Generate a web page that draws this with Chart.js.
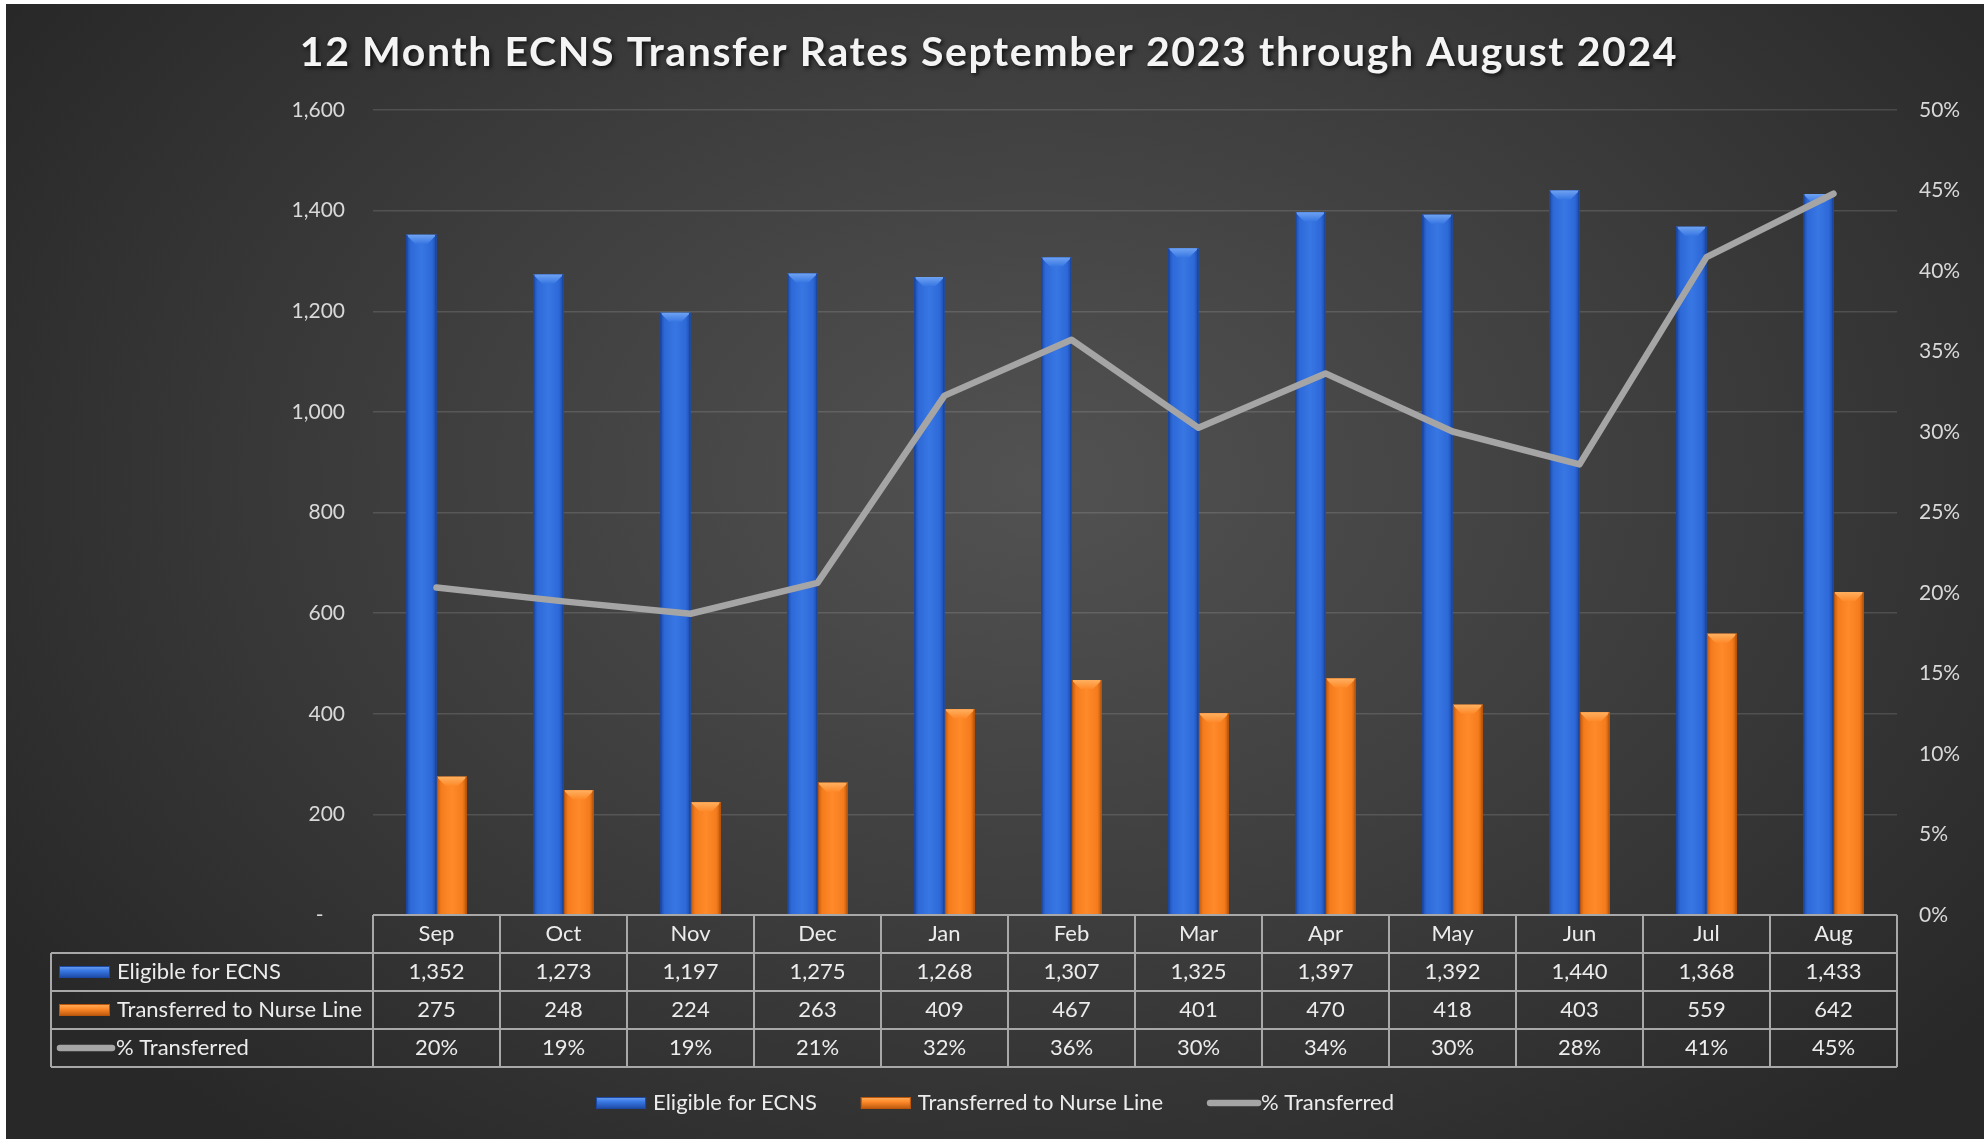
<!DOCTYPE html>
<html>
<head>
<meta charset="utf-8">
<script src="https://cdn.jsdelivr.net/npm/chart.js@4.4.1/dist/chart.umd.min.js"></script>
<style>
  body { margin: 0; background: #fff; }
  #wrap {
    position: absolute; left: 6px; top: 4px; width: 1978px; height: 1135px;
    background: radial-gradient(ellipse 62% 75% at 52% 42%, #525252 0%, #3e3e3e 50%, #282828 100%);
  }
</style>
</head>
<body>
<div id="wrap"><canvas id="chart" width="1978" height="1135"></canvas></div>
<script>
var chartTitle = '12 Month ECNS Transfer Rates September 2023 through August 2024';
var months = ['Sep', 'Oct', 'Nov', 'Dec', 'Jan', 'Feb', 'Mar', 'Apr', 'May', 'Jun', 'Jul', 'Aug'];
var eligible = [1352, 1273, 1197, 1275, 1268, 1307, 1325, 1397, 1392, 1440, 1368, 1433];
var transferred = [275, 248, 224, 263, 409, 467, 401, 470, 418, 403, 559, 642];
// % transferred, as drawn by the line (table shows them rounded)
var pctTransferred = [20.34, 19.48, 18.71, 20.63, 32.26, 35.73, 30.26, 33.64, 30.03, 27.99, 40.86, 44.80];

var FONT = 'Lato, "Open Sans", sans-serif';
var blue = { main: '#2d69d8', light: '#3877e3', edge: '#1c48a2', top: '#6ea2f2' };
var orange = { main: '#f57c1c', light: '#ff8a2a', edge: '#b9560c', top: '#ffb060' };
var lineGray = '#a5a5a5';

function drawColumn(ctx, l, t, r, b, pal) {
	var w = r - l;
	if (b - t < 1) return;
	var g = ctx.createLinearGradient(l, 0, r, 0);
	g.addColorStop(0, pal.edge);
	g.addColorStop(0.15, pal.main);
	g.addColorStop(0.5, pal.light);
	g.addColorStop(0.85, pal.main);
	g.addColorStop(1, pal.edge);
	ctx.fillStyle = g;
	ctx.fillRect(l, t, w, b - t);

	// bevelled top
	var bv = Math.min(9, (b - t) / 2);
	var tg = ctx.createLinearGradient(0, t, 0, t + bv);
	tg.addColorStop(0, pal.top);
	tg.addColorStop(1, pal.light);
	ctx.beginPath();
	ctx.moveTo(l, t);
	ctx.lineTo(r, t);
	ctx.lineTo(r - bv, t + bv);
	ctx.lineTo(l + bv, t + bv);
	ctx.closePath();
	ctx.fillStyle = tg;
	ctx.fill();

	ctx.fillStyle = pal.edge;
	ctx.fillRect(l, t, 1.5, b - t);
	ctx.fillRect(r - 1.5, t, 1.5, b - t);
}

function drawSwatch(ctx, x, y, w, h, pal) {
	var g = ctx.createLinearGradient(0, y, 0, y + h);
	g.addColorStop(0, pal.top);
	g.addColorStop(0.4, pal.light);
	g.addColorStop(1, pal.edge);
	ctx.fillStyle = g;
	ctx.fillRect(x, y, w, h);
	ctx.strokeStyle = pal.edge;
	ctx.lineWidth = 1;
	ctx.strokeRect(x + 0.5, y + 0.5, w - 1, h - 1);
}

function drawLineSwatch(ctx, x, y, w) {
	ctx.strokeStyle = lineGray;
	ctx.lineWidth = 6.5;
	ctx.lineCap = 'round';
	ctx.beginPath();
	ctx.moveTo(x + 3, y);
	ctx.lineTo(x + w - 3, y);
	ctx.stroke();
}

var bevelBars = {
	id: 'bevelBars',
	afterDatasetDraw: function(chart, args) {
		var ds = chart.data.datasets[args.index];
		if (!ds.palette) return;
		var ctx = chart.ctx;
		ctx.save();
		args.meta.data.forEach(function(bar) {
			var p = bar.getProps(['x', 'y', 'width', 'base'], true);
			drawColumn(ctx, p.x - p.width / 2, p.y, p.x + p.width / 2, p.base, ds.palette);
		});
		ctx.restore();
	}
};

var tableAndLegend = {
	id: 'tableAndLegend',
	afterDraw: function(chart) {
		var ctx = chart.ctx;
		var x = chart.scales.x;
		var n = months.length;
		var colW = x.width / n;
		var top = chart.chartArea.bottom;
		var rowH = 38;
		var labelLeft = 45;
		var rows = [
			{ label: 'Eligible for ECNS', pal: blue, vals: eligible.map(function(v) { return v.toLocaleString('en-US'); }) },
			{ label: 'Transferred to Nurse Line', pal: orange, vals: transferred.map(function(v) { return v.toLocaleString('en-US'); }) },
			{ label: '% Transferred', line: true, vals: pctTransferred.map(function(v) { return Math.round(v) + '%'; }) }
		];

		ctx.save();

		// title
		ctx.save();
		ctx.shadowColor = 'rgba(0,0,0,0.75)';
		ctx.shadowBlur = 4;
		ctx.shadowOffsetX = 2;
		ctx.shadowOffsetY = 2;
		ctx.font = 'bold 41px ' + FONT;
		ctx.letterSpacing = '1.6px';
		ctx.fillStyle = '#f4f4f4';
		ctx.textAlign = 'center';
		ctx.textBaseline = 'middle';
		ctx.fillText(chartTitle, 983, 49);
		ctx.restore();

		// table grid
		ctx.strokeStyle = '#a8a8a8';
		ctx.lineWidth = 2;
		ctx.beginPath();
		ctx.moveTo(x.left, top);
		ctx.lineTo(x.right, top);
		for (var r = 1; r <= rows.length + 1; r++) {
			ctx.moveTo(labelLeft, top + r * rowH);
			ctx.lineTo(x.right, top + r * rowH);
		}
		for (var c = 0; c <= n; c++) {
			var cx = x.left + c * colW;
			ctx.moveTo(cx, top);
			ctx.lineTo(cx, top + (rows.length + 1) * rowH);
		}
		ctx.moveTo(labelLeft, top + rowH);
		ctx.lineTo(labelLeft, top + (rows.length + 1) * rowH);
		ctx.stroke();

		ctx.font = '22px ' + FONT;
		ctx.fillStyle = '#ececec';
		ctx.textBaseline = 'middle';
		ctx.textAlign = 'center';
		for (var i = 0; i < n; i++) {
			ctx.fillText(months[i], x.getPixelForValue(i), top + rowH / 2);
		}
		rows.forEach(function(row, ri) {
			var cy = top + (ri + 1) * rowH + rowH / 2;
			if (row.line) drawLineSwatch(ctx, 51, cy, 58);
			else drawSwatch(ctx, 53, cy - 6, 51, 12, row.pal);
			ctx.fillStyle = '#ececec';
			ctx.textAlign = 'left';
			ctx.fillText(row.label, row.line ? 110 : 111, cy);
			ctx.textAlign = 'center';
			row.vals.forEach(function(v, i) {
				ctx.fillText(v, x.getPixelForValue(i), cy);
			});
		});

		// legend under the table
		var items = [
			{ label: 'Eligible for ECNS', pal: blue },
			{ label: 'Transferred to Nurse Line', pal: orange },
			{ label: '% Transferred', line: true }
		];
		var swW = 50, gapText = 7, gapItem = 44;
		var total = 0;
		items.forEach(function(it, k) {
			it.tw = ctx.measureText(it.label).width;
			total += swW + (it.line ? 4 : gapText) + it.tw + (k < items.length - 1 ? gapItem : 0);
		});
		var lx = chart.width / 2 - total / 2;
		var ly = 1099;
		items.forEach(function(it) {
			if (it.line) drawLineSwatch(ctx, lx, ly, swW + 4);
			else drawSwatch(ctx, lx, ly - 6, swW, 12, it.pal);
			lx += swW + (it.line ? 4 : gapText);
			ctx.fillStyle = '#ececec';
			ctx.textAlign = 'left';
			ctx.fillText(it.label, lx, ly);
			lx += it.tw + gapItem;
		});

		ctx.restore();
	}
};

var ctx = document.getElementById('chart').getContext('2d');
var chart = new Chart(ctx, {
	type: 'bar',
	data: {
		labels: months,
		datasets: [{
			type: 'line',
			label: '% Transferred',
			data: pctTransferred,
			yAxisID: 'y1',
			borderColor: lineGray,
			borderWidth: 6.5,
			borderCapStyle: 'round',
			borderJoinStyle: 'round',
			pointRadius: 0,
			tension: 0,
			order: 0
		}, {
			label: 'Eligible for ECNS',
			data: eligible,
			backgroundColor: blue.main,
			palette: blue,
			yAxisID: 'y',
			order: 1
		}, {
			label: 'Transferred to Nurse Line',
			data: transferred,
			backgroundColor: orange.main,
			palette: orange,
			yAxisID: 'y',
			order: 1
		}]
	},
	options: {
		responsive: false,
		animation: false,
		layout: { padding: { top: 106, bottom: 224, left: 0, right: 0 } },
		datasets: {
			bar: { categoryPercentage: 0.48, barPercentage: 1.0 }
		},
		plugins: {
			legend: { display: false },
			title: { display: false },
			tooltip: { enabled: false }
		},
		scales: {
			x: { display: false },
			y: {
				position: 'left',
				min: 0,
				max: 1600,
				ticks: {
					stepSize: 200,
					padding: 28,
					color: '#d9d9d9',
					font: { family: FONT, size: 21 },
					callback: function(v) { return v === 0 ? '-    ' : v.toLocaleString('en-US'); }
				},
				grid: { color: 'rgba(255,255,255,0.13)', lineWidth: 1.5, drawTicks: false },
				border: { display: false },
				afterFit: function(scale) { scale.width = 367; }
			},
			y1: {
				position: 'right',
				min: 0,
				max: 50,
				ticks: {
					stepSize: 5,
					padding: 22,
					color: '#d9d9d9',
					font: { family: FONT, size: 21 },
					callback: function(v) { return v + '%'; }
				},
				grid: { display: false, drawTicks: false },
				border: { display: false },
				afterFit: function(scale) { scale.width = 87; }
			}
		}
	},
	plugins: [bevelBars, tableAndLegend]
});
</script>
</body>
</html>
